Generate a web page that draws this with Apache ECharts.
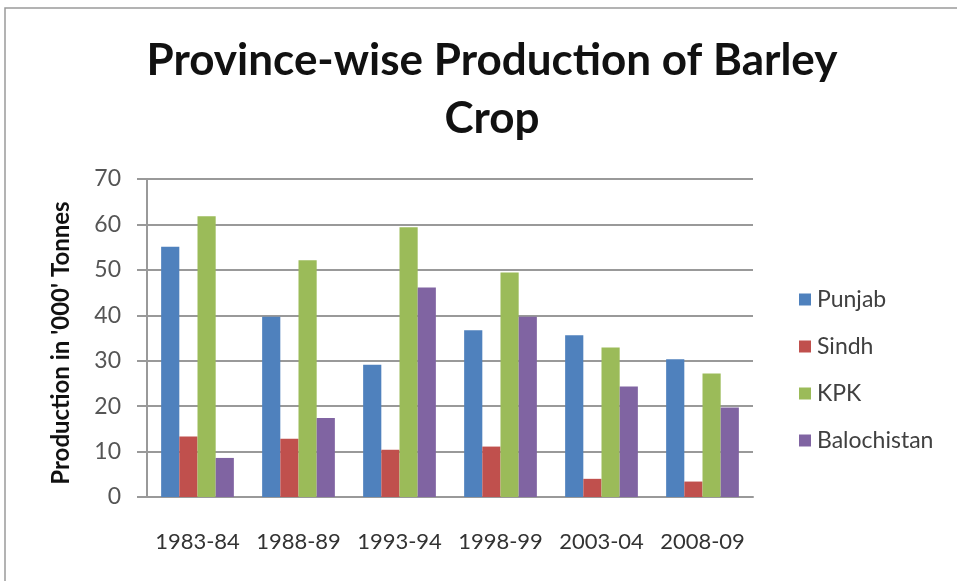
<!DOCTYPE html>
<html><head><meta charset="utf-8">
<script src="https://cdn.jsdelivr.net/npm/echarts@6/dist/echarts.min.js"></script>
<style>html,body{margin:0;padding:0;background:#fff}#c{width:957px;height:581px}</style>
</head><body><div id="c"></div>
<script>
const categories = ['1983-84','1988-89','1993-94','1998-99','2003-04','2008-09'];
const punjab = [55.1, 39.7, 29.1, 36.7, 35.6, 30.3];
const sindh = [13.3, 12.8, 10.4, 11.1, 4.0, 3.4];
const kpk = [61.8, 52.1, 59.4, 49.4, 32.9, 27.2];
const balochistan = [8.6, 17.4, 46.1, 39.7, 24.3, 19.7];
const seriesNames = ['Punjab','Sindh','KPK','Balochistan'];
const colors = ['#4F81BD','#C0504D','#9BBB59','#8064A2'];
const chart = echarts.init(document.getElementById('c'));
const font = 'Lato, "Open Sans", sans-serif';
chart.setOption({
  animation:false,
  color: colors,
  graphic:[{type:'rect',shape:{x:5,y:8,width:960,height:580},style:{fill:'none',stroke:'#9a9a9a',lineWidth:1.5},silent:true}],
  title:{text:'Province-wise Production of Barley\nCrop',left:487,textAlign:'center',top:27,
    textStyle:{fontFamily:font,fontWeight:'bold',fontSize:44,lineHeight:58,color:'#111'}},
  legend:{orient:'vertical',left:794,top:283,itemGap:24,itemWidth:12,itemHeight:12,icon:'rect',
    textStyle:{fontFamily:font,fontSize:23,lineHeight:23,color:'#404040',padding:[0,0,0,1]}},
  grid:{left:147,right:204,top:179,bottom:84},
  xAxis:{type:'category',data:categories,
    axisLine:{lineStyle:{color:'#999',width:2}},axisTick:{show:false},
    axisLabel:{interval:0,fontFamily:font,fontSize:22,color:'#333',margin:34}},
  yAxis:{type:'value',min:0,max:70,interval:10,
    name:"Production in '000' Tonnes",nameLocation:'middle',nameGap:74,nameRotate:90,
    nameTextStyle:{fontFamily:font,fontWeight:'bold',fontSize:24,color:'#111',padding:[0,10,0,0]},
    axisLine:{show:true,lineStyle:{color:'#999',width:2}},
    axisTick:{show:true,length:10,lineStyle:{color:'#999',width:2}},
    axisLabel:{fontFamily:font,fontSize:23,color:'#555',margin:26}},
  series:[
    {name:seriesNames[0],type:'bar',data:punjab,barGap:'0%',barCategoryGap:'28%'},
    {name:seriesNames[1],type:'bar',data:sindh},
    {name:seriesNames[2],type:'bar',data:kpk},
    {name:seriesNames[3],type:'bar',data:balochistan}
  ]
});
chart.setOption({yAxis:{splitLine:{show:true,lineStyle:{color:'#999',width:2,type:'solid'}}}});
</script></body></html>
